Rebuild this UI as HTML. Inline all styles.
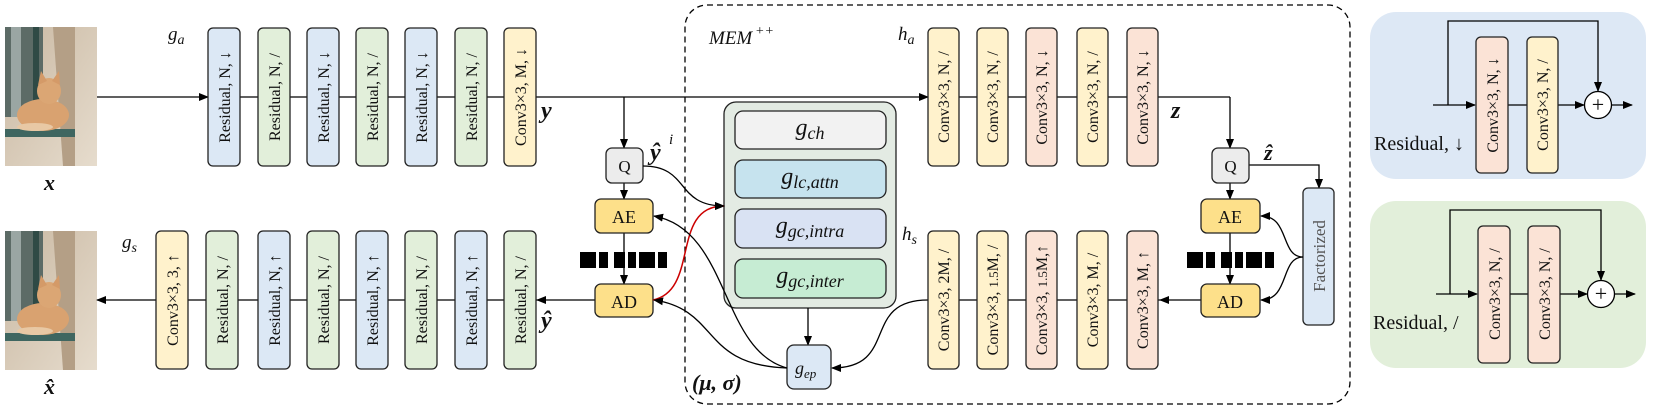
<!DOCTYPE html>
<html><head><meta charset="utf-8"><style>
html,body{margin:0;padding:0;background:#fff;}
svg{display:block;}
text{font-family:"Liberation Serif",serif;fill:#111;}
.bt{font-size:16px;}
.m{font-style:italic;}
</style></head><body>
<svg width="1661" height="416" viewBox="0 0 1661 416" xmlns="http://www.w3.org/2000/svg">
<defs>
<marker id="a" markerWidth="10" markerHeight="10" refX="9" refY="5" orient="auto" markerUnits="userSpaceOnUse"><path d="M0,1 L10,5 L0,9 Z" fill="#000"/></marker>
<marker id="ar" markerWidth="10" markerHeight="10" refX="9" refY="5" orient="auto" markerUnits="userSpaceOnUse"><path d="M0,1 L10,5 L0,9 Z" fill="#000"/></marker>
<linearGradient id="wall" x1="0" y1="0" x2="1" y2="1"><stop offset="0" stop-color="#c9b8a2"/><stop offset="1" stop-color="#e6dccd"/></linearGradient>
<g id="cat">
<rect x="0" y="0" width="92" height="139" fill="url(#wall)"/>
<rect x="0" y="0" width="38" height="90" fill="#5c6b66"/>
<rect x="6" y="0" width="10" height="90" fill="#9aa6a3"/>
<rect x="28" y="0" width="6" height="95" fill="#2f4a45"/>
<polygon points="48,0 70,0 70,139 58,139" fill="#b49f86"/>
<rect x="0" y="102" width="70" height="8" fill="#3f6660"/>
<ellipse cx="38" cy="88" rx="26" ry="16" fill="#d9a270"/>
<ellipse cx="44" cy="64" rx="12" ry="13" fill="#dba674"/>
<polygon points="33,58 36,44 42,54" fill="#d49a68"/>
<polygon points="47,54 54,44 55,58" fill="#d49a68"/>
<ellipse cx="30" cy="100" rx="18" ry="4" fill="#e8c8a4"/>
</g>
</defs>

<use href="#cat" x="5" y="27"/>
<use href="#cat" x="5" y="231"/>
<text x="44" y="190" font-size="22" font-weight="bold" class="m">x</text>
<text x="44" y="394" font-size="22" font-weight="bold" class="m">x̂</text>

<rect x="685" y="5" width="665" height="399" rx="22" fill="none" stroke="#000" stroke-width="1.3" stroke-dasharray="6,4"/>
<text x="709" y="44" font-size="19" class="m">MEM</text><text x="755" y="35" font-size="14" class="m">++</text>

<line x1="97" y1="97" x2="208" y2="97" stroke="#000" stroke-width="1.3" marker-end="url(#a)"/>
<line x1="208" y1="97" x2="928" y2="97" stroke="#000" stroke-width="1.3" marker-end="url(#a)"/>
<line x1="928" y1="97" x2="1230" y2="97" stroke="#000" stroke-width="1.3"/>
<line x1="1230" y1="97" x2="1230" y2="148" stroke="#000" stroke-width="1.3" marker-end="url(#a)"/>
<line x1="624" y1="97" x2="624" y2="148" stroke="#000" stroke-width="1.3" marker-end="url(#a)"/>

<line x1="595" y1="300" x2="537" y2="300" stroke="#000" stroke-width="1.3" marker-end="url(#a)"/>
<line x1="537" y1="300" x2="156" y2="300" stroke="#000" stroke-width="1.3"/>
<line x1="156" y1="300" x2="97" y2="300" stroke="#000" stroke-width="1.3" marker-end="url(#a)"/>
<line x1="1201" y1="300" x2="1160" y2="300" stroke="#000" stroke-width="1.3" marker-end="url(#a)"/>
<line x1="1160" y1="300" x2="928" y2="300" stroke="#000" stroke-width="1.3"/>

<text x="168" y="40" font-size="19" class="m">g<tspan font-size="14" dy="4">a</tspan></text>
<g stroke="#222" stroke-width="1.3">
<rect x="208" y="28" width="32" height="138" rx="5" fill="#dce8f5"/>
<rect x="258" y="28" width="32" height="138" rx="5" fill="#e2efda"/>
<rect x="307" y="28" width="32" height="138" rx="5" fill="#dce8f5"/>
<rect x="356" y="28" width="32" height="138" rx="5" fill="#e2efda"/>
<rect x="405" y="28" width="32" height="138" rx="5" fill="#dce8f5"/>
<rect x="455" y="28" width="32" height="138" rx="5" fill="#e2efda"/>
<rect x="504" y="28" width="32" height="138" rx="5" fill="#fff2cc"/>
</g>
<g class="bt" text-anchor="middle">
<text transform="translate(230,97) rotate(-90)">Residual, N, ↓</text>
<text transform="translate(280,97) rotate(-90)">Residual, N, /</text>
<text transform="translate(329,97) rotate(-90)">Residual, N, ↓</text>
<text transform="translate(378,97) rotate(-90)">Residual, N, /</text>
<text transform="translate(427,97) rotate(-90)">Residual, N, ↓</text>
<text transform="translate(477,97) rotate(-90)">Residual, N, /</text>
<text transform="translate(526,97) rotate(-90)">Conv3×3, M, ↓</text>
</g>
<text x="541" y="118" font-size="24" font-weight="bold" class="m">y</text>

<text x="122" y="248" font-size="19" class="m">g<tspan font-size="14" dy="4">s</tspan></text>
<g stroke="#222" stroke-width="1.3">
<rect x="156" y="231" width="32" height="138" rx="5" fill="#fff2cc"/>
<rect x="206" y="231" width="32" height="138" rx="5" fill="#e2efda"/>
<rect x="258" y="231" width="32" height="138" rx="5" fill="#dce8f5"/>
<rect x="307" y="231" width="32" height="138" rx="5" fill="#e2efda"/>
<rect x="356" y="231" width="32" height="138" rx="5" fill="#dce8f5"/>
<rect x="405" y="231" width="32" height="138" rx="5" fill="#e2efda"/>
<rect x="455" y="231" width="32" height="138" rx="5" fill="#dce8f5"/>
<rect x="504" y="231" width="32" height="138" rx="5" fill="#e2efda"/>
</g>
<g class="bt" text-anchor="middle">
<text transform="translate(178,300) rotate(-90)">Conv3×3, 3, ↑</text>
<text transform="translate(228,300) rotate(-90)">Residual, N, /</text>
<text transform="translate(280,300) rotate(-90)">Residual, N, ↑</text>
<text transform="translate(329,300) rotate(-90)">Residual, N, /</text>
<text transform="translate(378,300) rotate(-90)">Residual, N, ↑</text>
<text transform="translate(427,300) rotate(-90)">Residual, N, /</text>
<text transform="translate(477,300) rotate(-90)">Residual, N, ↑</text>
<text transform="translate(526,300) rotate(-90)">Residual, N, /</text>
</g>
<text x="541" y="328" font-size="24" font-weight="bold" class="m">ŷ</text>

<line x1="624" y1="183" x2="624" y2="199" stroke="#000" stroke-width="1.3" marker-end="url(#a)"/>
<line x1="624" y1="233" x2="624" y2="284" stroke="#000" stroke-width="1.3" marker-end="url(#a)"/>
<rect x="606" y="148" width="37" height="35" rx="6" fill="#ececec" stroke="#222" stroke-width="1.3"/>
<text x="624.5" y="172" font-size="17" text-anchor="middle">Q</text>
<rect x="595" y="199" width="58" height="34" rx="6" fill="#fde08a" stroke="#222" stroke-width="1.3"/>
<text x="624" y="223" font-size="18" text-anchor="middle">AE</text>
<rect x="595" y="284" width="58" height="33" rx="6" fill="#fde08a" stroke="#222" stroke-width="1.3"/>
<text x="624" y="308" font-size="18" text-anchor="middle">AD</text>
<g fill="#000">
<rect x="580" y="252" width="16" height="16"/><rect x="599" y="252" width="9" height="16"/><rect x="614" y="252" width="11" height="16"/><rect x="628" y="252" width="8" height="16"/><rect x="639" y="252" width="16" height="16"/><rect x="658" y="252" width="9" height="16"/>
</g>
<text x="650" y="160" font-size="24" font-weight="bold" class="m">ŷ</text><text x="669" y="144" font-size="15" class="m">i</text>

<rect x="724" y="102" width="172" height="206" rx="12" fill="#e3ebe3" stroke="#222" stroke-width="1.3"/>
<rect x="735" y="111" width="151" height="38" rx="8" fill="#f2f2f2" stroke="#222" stroke-width="1.3"/>
<rect x="735" y="160" width="151" height="38" rx="8" fill="#c6e3ee" stroke="#222" stroke-width="1.3"/>
<rect x="735" y="209" width="151" height="39" rx="8" fill="#d9e2f3" stroke="#222" stroke-width="1.3"/>
<rect x="735" y="259" width="151" height="39" rx="8" fill="#c6ecd3" stroke="#222" stroke-width="1.3"/>
<g font-size="24" class="m" text-anchor="middle">
<text x="810" y="135">g<tspan font-size="18" dy="4">ch</tspan></text>
<text x="810" y="184">g<tspan font-size="18" dy="4">lc,attn</tspan></text>
<text x="810" y="233">g<tspan font-size="18" dy="4">gc,intra</tspan></text>
<text x="810" y="283">g<tspan font-size="18" dy="4">gc,inter</tspan></text>
</g>
<line x1="808" y1="308" x2="808" y2="345" stroke="#000" stroke-width="1.3" marker-end="url(#a)"/>
<rect x="787" y="345" width="44" height="44" rx="7" fill="#dce8f5" stroke="#222" stroke-width="1.3"/>
<text x="795" y="374" font-size="18" class="m">g<tspan font-size="13" dy="4">ep</tspan></text>
<text x="692" y="390" font-size="22" font-weight="bold" class="m">(μ, σ)</text>

<path d="M643,166 C690,166 675,206 724,206" fill="none" stroke="#000" stroke-width="1.3" marker-end="url(#a)"/>
<path d="M653,300 C700,290 670,206 724,206" fill="none" stroke="#c00" stroke-width="1.5" marker-end="url(#ar)"/>
<path d="M787,368 C720,350 730,230 654,216" fill="none" stroke="#000" stroke-width="1.3" marker-end="url(#a)"/>
<path d="M787,368 C700,365 720,310 654,300" fill="none" stroke="#000" stroke-width="1.3" marker-end="url(#a)"/>
<path d="M928,300 C860,300 900,368 832,368" fill="none" stroke="#000" stroke-width="1.3" marker-end="url(#a)"/>

<text x="898" y="40" font-size="19" class="m">h<tspan font-size="14" dy="4">a</tspan></text>
<text x="902" y="240" font-size="19" class="m">h<tspan font-size="14" dy="4">s</tspan></text>
<g stroke="#222" stroke-width="1.3">
<rect x="928" y="28" width="31" height="138" rx="5" fill="#fff2cc"/>
<rect x="977" y="28" width="31" height="138" rx="5" fill="#fff2cc"/>
<rect x="1026" y="28" width="31" height="138" rx="5" fill="#fbe3d6"/>
<rect x="1077" y="28" width="31" height="138" rx="5" fill="#fff2cc"/>
<rect x="1127" y="28" width="31" height="138" rx="5" fill="#fbe3d6"/>
<rect x="928" y="231" width="31" height="138" rx="5" fill="#fff2cc"/>
<rect x="977" y="231" width="31" height="138" rx="5" fill="#fff2cc"/>
<rect x="1026" y="231" width="31" height="138" rx="5" fill="#fbe3d6"/>
<rect x="1077" y="231" width="31" height="138" rx="5" fill="#fff2cc"/>
<rect x="1127" y="231" width="31" height="138" rx="5" fill="#fbe3d6"/>
</g>
<g class="bt" text-anchor="middle">
<text transform="translate(949,97) rotate(-90)">Conv3×3, N, /</text>
<text transform="translate(998,97) rotate(-90)">Conv3×3, N, /</text>
<text transform="translate(1047,97) rotate(-90)">Conv3×3, N, ↓</text>
<text transform="translate(1098,97) rotate(-90)">Conv3×3, N, /</text>
<text transform="translate(1148,97) rotate(-90)">Conv3×3, N, ↓</text>
<text transform="translate(949,300) rotate(-90)">Conv3×3, 2M, /</text>
<text transform="translate(998,300) rotate(-90)">Conv3×3, <tspan font-size="13">1.5</tspan>M, /</text>
<text transform="translate(1047,300) rotate(-90)">Conv3×3, <tspan font-size="13">1.5</tspan>M,↑</text>
<text transform="translate(1098,300) rotate(-90)">Conv3×3, M, /</text>
<text transform="translate(1148,300) rotate(-90)">Conv3×3, M, ↑</text>
</g>
<text x="1171" y="118" font-size="24" font-weight="bold" class="m">z</text>

<line x1="1230" y1="183" x2="1230" y2="199" stroke="#000" stroke-width="1.3" marker-end="url(#a)"/>
<line x1="1230" y1="233" x2="1230" y2="284" stroke="#000" stroke-width="1.3" marker-end="url(#a)"/>
<path d="M1249,165 L1319,165 L1319,188" fill="none" stroke="#000" stroke-width="1.3" marker-end="url(#a)"/>
<rect x="1212" y="148" width="37" height="35" rx="6" fill="#ececec" stroke="#222" stroke-width="1.3"/>
<text x="1230.5" y="172" font-size="17" text-anchor="middle">Q</text>
<rect x="1201" y="199" width="59" height="34" rx="6" fill="#fde08a" stroke="#222" stroke-width="1.3"/>
<text x="1230" y="223" font-size="18" text-anchor="middle">AE</text>
<rect x="1201" y="284" width="59" height="33" rx="6" fill="#fde08a" stroke="#222" stroke-width="1.3"/>
<text x="1230" y="308" font-size="18" text-anchor="middle">AD</text>
<g fill="#000">
<rect x="1187" y="252" width="16" height="16"/><rect x="1206" y="252" width="9" height="16"/><rect x="1221" y="252" width="11" height="16"/><rect x="1235" y="252" width="8" height="16"/><rect x="1246" y="252" width="16" height="16"/><rect x="1265" y="252" width="9" height="16"/>
</g>
<text x="1264" y="160" font-size="22" font-weight="bold" class="m">ẑ</text>
<rect x="1303" y="188" width="31" height="137" rx="5" fill="#dce8f5" stroke="#222" stroke-width="1.3"/>
<text transform="translate(1325,256) rotate(-90)" font-size="17" text-anchor="middle" style="fill:#555">Factorized</text>
<path d="M1303,257 C1280,257 1290,216 1261,216" fill="none" stroke="#000" stroke-width="1.3" marker-end="url(#a)"/>
<path d="M1303,257 C1280,257 1290,300 1261,300" fill="none" stroke="#000" stroke-width="1.3" marker-end="url(#a)"/>

<rect x="1370" y="12" width="276" height="167" rx="26" fill="#dde8f5"/>
<line x1="1433" y1="105" x2="1475" y2="105" stroke="#000" stroke-width="1.3" marker-end="url(#a)"/>
<path d="M1448,105 L1448,21 L1598,21 L1598,91" fill="none" stroke="#000" stroke-width="1.3" marker-end="url(#a)"/>
<line x1="1508" y1="105" x2="1527" y2="105" stroke="#000" stroke-width="1.3"/>
<line x1="1558" y1="105" x2="1584" y2="105" stroke="#000" stroke-width="1.3" marker-end="url(#a)"/>
<line x1="1612" y1="105" x2="1632" y2="105" stroke="#000" stroke-width="1.3" marker-end="url(#a)"/>
<circle cx="1598" cy="105" r="13.5" fill="#fff" stroke="#000" stroke-width="1.3"/>
<text x="1598" y="112" font-size="22" text-anchor="middle">+</text>
<rect x="1476" y="37" width="32" height="136" rx="5" fill="#fbe3d6" stroke="#222" stroke-width="1.3"/>
<rect x="1527" y="37" width="31" height="136" rx="5" fill="#fff2cc" stroke="#222" stroke-width="1.3"/>
<text transform="translate(1498,105) rotate(-90)" class="bt" text-anchor="middle">Conv3×3, N, ↓</text>
<text transform="translate(1548,105) rotate(-90)" class="bt" text-anchor="middle">Conv3×3, N, /</text>
<text x="1374" y="150" font-size="20">Residual, ↓</text>

<rect x="1370" y="201" width="276" height="167" rx="26" fill="#e2efda"/>
<line x1="1436" y1="294" x2="1477" y2="294" stroke="#000" stroke-width="1.3" marker-end="url(#a)"/>
<path d="M1450,294 L1450,210 L1601,210 L1601,280" fill="none" stroke="#000" stroke-width="1.3" marker-end="url(#a)"/>
<line x1="1510" y1="294" x2="1528" y2="294" stroke="#000" stroke-width="1.3"/>
<line x1="1560" y1="294" x2="1587" y2="294" stroke="#000" stroke-width="1.3" marker-end="url(#a)"/>
<line x1="1615" y1="294" x2="1635" y2="294" stroke="#000" stroke-width="1.3" marker-end="url(#a)"/>
<circle cx="1601" cy="294" r="13.5" fill="#fff" stroke="#000" stroke-width="1.3"/>
<text x="1601" y="301" font-size="22" text-anchor="middle">+</text>
<rect x="1478" y="226" width="32" height="137" rx="5" fill="#fbe3d6" stroke="#222" stroke-width="1.3"/>
<rect x="1528" y="226" width="32" height="137" rx="5" fill="#fbe3d6" stroke="#222" stroke-width="1.3"/>
<text transform="translate(1500,294) rotate(-90)" class="bt" text-anchor="middle">Conv3×3, N, /</text>
<text transform="translate(1550,294) rotate(-90)" class="bt" text-anchor="middle">Conv3×3, N, /</text>
<text x="1373" y="329" font-size="20">Residual, /</text>
</svg>
</body></html>
